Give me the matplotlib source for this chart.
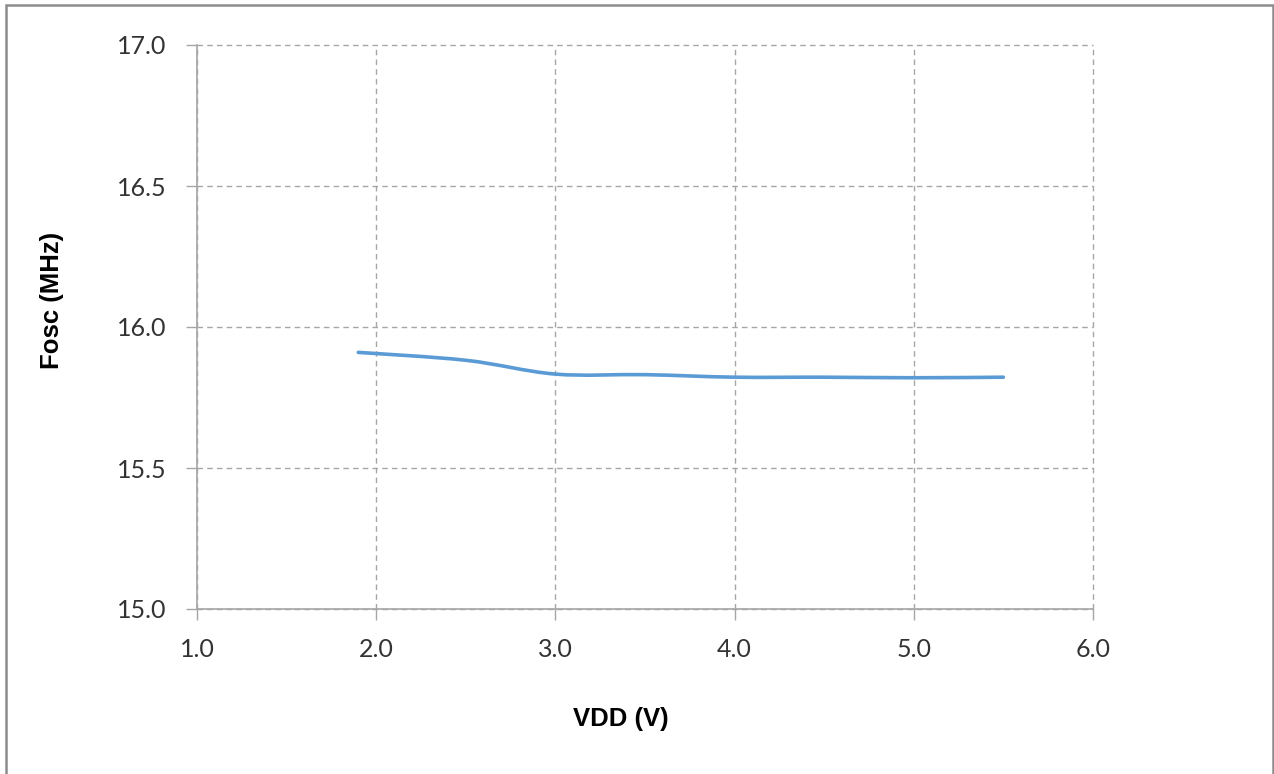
import numpy as np
import matplotlib
matplotlib.use("Agg")
import matplotlib.pyplot as plt
from matplotlib.path import Path
from matplotlib.patches import PathPatch, Rectangle

# ================= DATA =================
VDD = [1.9, 2.5, 3.0, 3.5, 4.0, 4.5, 5.0, 5.5]
FOSC = [15.910, 15.882, 15.833, 15.831, 15.822, 15.822, 15.820, 15.822]

X_TICKS = [1.0, 2.0, 3.0, 4.0, 5.0, 6.0]
Y_TICKS = [15.0, 15.5, 16.0, 16.5, 17.0]

# ================= SETTINGS =================
W, H = 1274, 774
DPI = 100
LINE_HEX = "#5b9bd5"
GRID_HEX = "#a6a6a6"
SPINE_HEX = "#a6a6a6"
TICK_FONT = "Lato"
LABEL_FONT = "Liberation Sans"
TICK_FS = 18


def smooth_path(x, y):
    # Excel-like smoothed line: Catmull-Rom segments as cubic Beziers
    p = np.column_stack([x, y]).astype(float)
    pts = np.vstack([p[0], p, p[-1]])
    verts = [tuple(p[0])]
    codes = [Path.MOVETO]
    for i in range(1, len(pts) - 2):
        p0, p1, p2, p3 = pts[i - 1], pts[i], pts[i + 1], pts[i + 2]
        c1 = p1 + (p2 - p0) / 6.0
        c2 = p2 - (p3 - p1) / 6.0
        verts += [tuple(c1), tuple(c2), tuple(p2)]
        codes += [Path.CURVE4] * 3
    return Path(verts, codes)


fig = plt.figure(figsize=(W / DPI, H / DPI), dpi=DPI)
ax = fig.add_axes([197 / W, (H - 609) / H, 896 / W, 564 / H])

ax.add_patch(PathPatch(smooth_path(VDD, FOSC), facecolor="none", edgecolor=LINE_HEX,
                       lw=2.6, capstyle="round", joinstyle="round", zorder=3))

ax.set_xlim(1.0, 6.0)
ax.set_ylim(15.0, 17.0)
ax.set_xticks(X_TICKS)
ax.set_yticks(Y_TICKS)
ax.set_xticklabels([f"{v:.1f}" for v in X_TICKS], fontfamily=TICK_FONT, fontsize=TICK_FS, color="#333333")
ax.set_yticklabels([f"{v:.1f}" for v in Y_TICKS], fontfamily=TICK_FONT, fontsize=TICK_FS, color="#333333")
ax.tick_params(axis="both", direction="out", length=8, width=1, color=SPINE_HEX)
ax.tick_params(axis="x", pad=13)
ax.tick_params(axis="y", pad=14)

ax.grid(True, color=GRID_HEX, lw=1.0, linestyle=(0, (4, 3)))
for gl in ax.get_xgridlines() + ax.get_ygridlines():
    gl.set_clip_on(False)
ax.set_axisbelow(True)
for s in ["top", "right"]:
    ax.spines[s].set_visible(False)
for s in ["left", "bottom"]:
    ax.spines[s].set_color(SPINE_HEX)
    ax.spines[s].set_linewidth(1.2)
    ax.spines[s].set_zorder(2.5)

fig.text(621 / W, 1 - 719 / H, "VDD (V)", ha="center", va="center",
         fontfamily=LABEL_FONT, fontweight="bold", fontsize=18.5)
fig.text(52 / W, 1 - 300 / H, "Fosc (MHz)", ha="center", va="center", rotation=90,
         fontfamily=LABEL_FONT, fontweight="bold", fontsize=18.5)

# chart area border
fig.add_artist(Rectangle((5.5 / W, -0.05), 1267.5 / W, (H - 4.5) / H + 0.05,
                         transform=fig.transFigure, facecolor="none",
                         edgecolor="#8c8c8c", lw=1.8))

fig.savefig("out.png", dpi=DPI)
